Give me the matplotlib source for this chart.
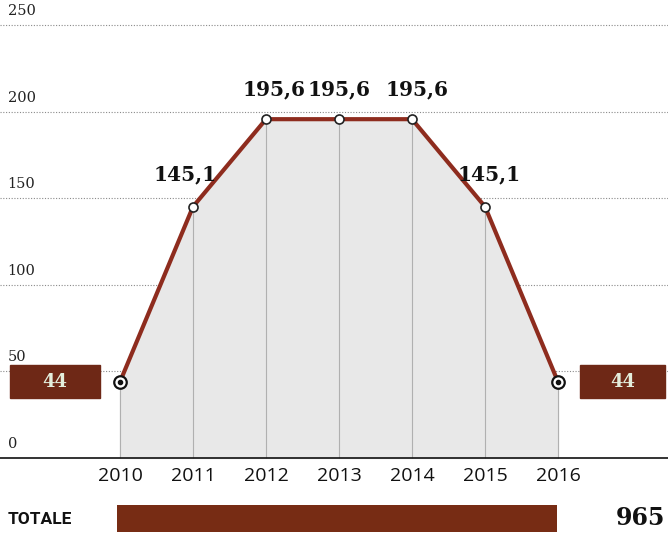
import numpy as np
import matplotlib
matplotlib.use("Agg")
import matplotlib.pyplot as plt
import matplotlib.transforms as mtransforms
from matplotlib.patches import Rectangle

years = [2010, 2011, 2012, 2013, 2014, 2015, 2016]
values = [44, 145.1, 195.6, 195.6, 195.6, 145.1, 44]
labels = ["44", "145,1", "195,6", "195,6", "195,6", "145,1", "44"]
yticks = [0, 50, 100, 150, 200, 250]
total = 965

line_col = "#8e2c1e"
box_col = "#6e2816"

fig = plt.figure(figsize=(6.68, 5.37), dpi=100)
ax = fig.add_axes([0, 0, 1, 1])
ax.set_xlim(2008.356, 2017.507)
ax.set_ylim(-45.6, 264.4)
ax.axis("off")

# dotted grid with labels above lines
for v in yticks[1:]:
    ax.axhline(v, color="#8a8a8a", lw=0.8, ls=(0, (1, 1.5)), zorder=1)
for v in yticks:
    ax.text(2008.46, v + 4, str(v), ha="left", va="bottom",
            family="DejaVu Serif", fontsize=10.5, color="#222222")
ax.axhline(0, color="#111111", lw=1.2, zorder=4)

# area under curve and vertical rules
ax.fill_between(years, values, 0, color="#e8e8e8", zorder=2)
ax.vlines(years, 0, values, color="#b0b0b0", lw=0.8, zorder=3)
ax.plot(years, values, color=line_col, lw=3, zorder=5, solid_capstyle="butt")

# markers
ax.plot(years[1:-1], values[1:-1], "o", ms=6.5, mfc="white", mec="#222222",
        mew=1.2, zorder=6)
ends = [0, len(years) - 1]
ax.plot([years[i] for i in ends], [values[i] for i in ends], "o", ms=9,
        mfc="white", mec="#111111", mew=1.6, zorder=6)
ax.plot([years[i] for i in ends], [values[i] for i in ends], "o", ms=3,
        color="#111111", zorder=7)

# value labels
offsets = {1: (-6, 16), 2: (6, 14), 3: (0, 14), 4: (4, 14), 5: (3, 16)}
for i, (dx, dy) in offsets.items():
    ax.annotate(labels[i], (years[i], values[i]), xytext=(dx, dy),
                textcoords="offset points", ha="center", va="bottom",
                family="DejaVu Serif", fontweight="bold", fontsize=14.5,
                color="#111111", zorder=8)

# end boxes
trans = mtransforms.blended_transform_factory(ax.transAxes, ax.transData)
for i, (x0, x1) in zip(ends, [(10 / 668, 100 / 668), (580 / 668, 665 / 668)]):
    ax.add_patch(Rectangle((x0, values[i] - 9.5), x1 - x0, 19, color=box_col,
                           transform=trans, zorder=6))
    ax.text((x0 + x1) / 2, values[i], labels[i], transform=trans,
            ha="center", va="center", family="DejaVu Serif",
            fontweight="bold", fontsize=13, color="#e4eedc", zorder=7)

# year labels
for y in years:
    ax.text(y, -5, str(y), ha="center", va="top", family="Open Sans",
            fontsize=14, color="#111111")

# total bar
tax = fig.add_axes([117 / 668, 5 / 537, 440 / 668, 27 / 537])
tax.barh([0], [total], height=1, color="#772c14")
tax.set_xlim(0, total)
tax.set_ylim(-0.5, 0.5)
tax.axis("off")
fig.text(8 / 668, 18 / 537, "TOTALE", ha="left", va="center",
         family="Roboto", fontweight="bold", fontsize=12.5, color="#111111",
         stretch="condensed")
fig.text(665 / 668, 19 / 537, f"{total}", ha="right", va="center",
         family="DejaVu Serif", fontweight="bold", fontsize=17, color="#111111")

fig.savefig("out.png", dpi=100)
